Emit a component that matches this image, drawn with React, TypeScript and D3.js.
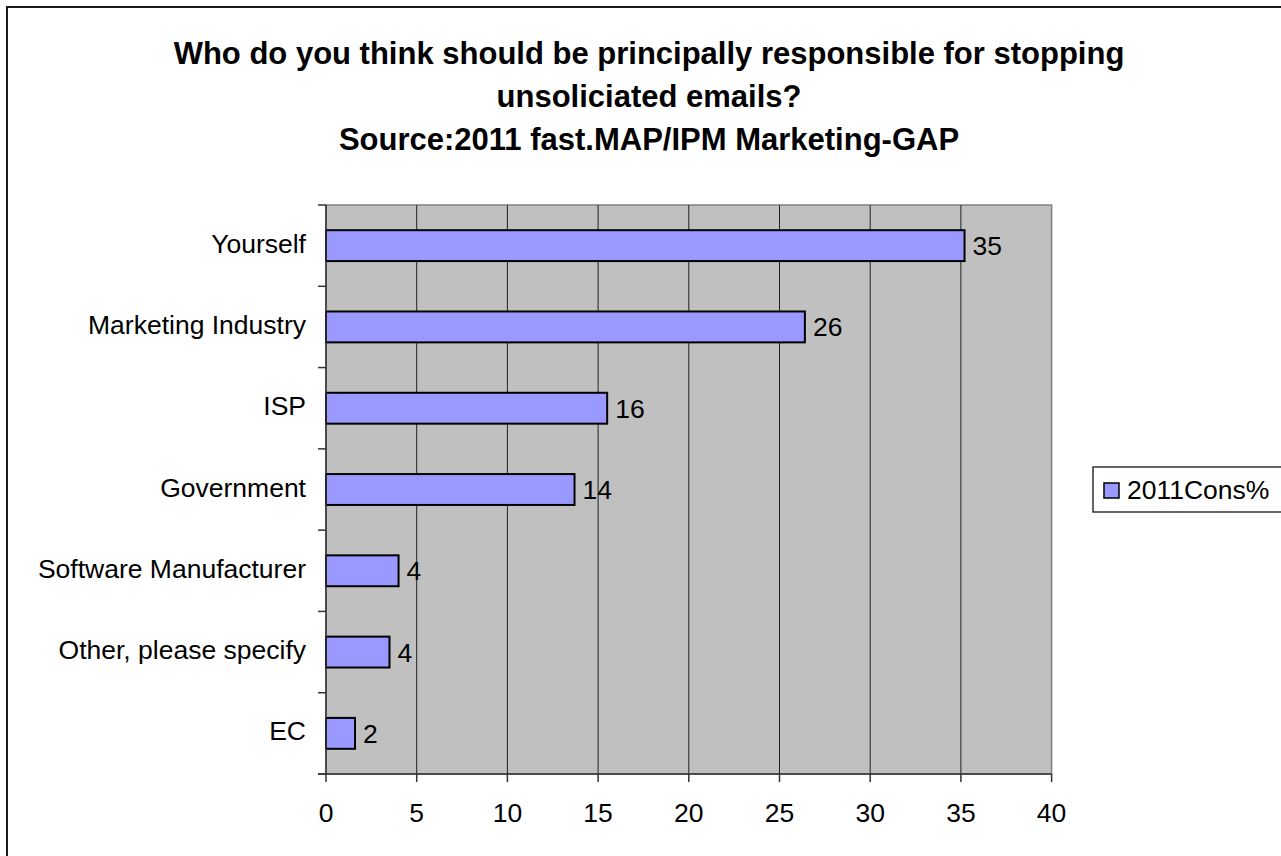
import React from "react";
import * as d3 from "d3";

const titleLines = [
  "Who do you think should be principally responsible for stopping",
  "unsoliciated emails?",
  "Source:2011 fast.MAP/IPM Marketing-GAP",
];
const categories = [
  "Yourself",
  "Marketing Industry",
  "ISP",
  "Government",
  "Software Manufacturer",
  "Other, please specify",
  "EC",
];
const values = [35.2, 26.4, 15.5, 13.7, 4.0, 3.5, 1.6];
const xTicks = [0, 5, 10, 15, 20, 25, 30, 35, 40];
const seriesName = "2011Cons%";

const FONT = "'Liberation Sans', Arial, sans-serif";

export default function App() {
  const W = 1281;
  const H = 856;
  const plot = { left: 326, right: 1051.6, top: 205, bottom: 774 };
  const x = d3.scaleLinear().domain([0, 40]).range([plot.left, plot.right]);
  const y = d3
    .scaleBand<string>()
    .domain(categories)
    .range([plot.top, plot.bottom])
    .paddingInner(0.62)
    .paddingOuter(0.31);
  const step = y.step();
  const boundaries = d3.range(categories.length + 1).map((i) => plot.top + i * step);
  const fmt = d3.format(".0f");
  const fs = 26.5;

  return (
    <div style={{ position: "absolute", left: 0, top: 0 }}>
      <svg width={W} height={H} style={{ display: "block", fontFamily: FONT }}>
        <rect x={0} y={0} width={W} height={H} fill="#fff" />
        {/* outer frame */}
        <rect x={7} y={7} width={1300} height={900} fill="#fff" stroke="#1a1a1a" strokeWidth={2} />
        {/* title */}
        {titleLines.map((t, i) => (
          <text
            key={i}
            x={649}
            y={63.5 + i * 43}
            textAnchor="middle"
            fontWeight="bold"
            fontSize={31}
            fill="#000"
          >
            {t}
          </text>
        ))}
        {/* plot area */}
        <rect
          x={plot.left}
          y={plot.top}
          width={plot.right - plot.left}
          height={plot.bottom - plot.top}
          fill="#c0c0c0"
          stroke="#808080"
          strokeWidth={1.5}
        />
        {/* gridlines */}
        {xTicks.slice(1, -1).map((t) => (
          <line
            key={t}
            x1={x(t)}
            x2={x(t)}
            y1={plot.top}
            y2={plot.bottom}
            stroke="#222"
            strokeWidth={1}
          />
        ))}
        {/* bars */}
        {categories.map((c, i) => (
          <g key={c}>
            <rect
              x={x(0)}
              y={y(c)!}
              width={x(values[i]) - x(0)}
              height={y.bandwidth()}
              fill="#9999ff"
              stroke="#000"
              strokeWidth={2}
            />
            <text
              x={x(values[i]) + 8}
              y={y(c)! + y.bandwidth() / 2 + 9.5}
              fontSize={fs}
              fill="#000"
            >
              {fmt(values[i])}
            </text>
            <text
              x={306}
              y={y(c)! + y.bandwidth() / 2 + 7}
              fontSize={fs}
              textAnchor="end"
              fill="#000"
            >
              {c}
            </text>
          </g>
        ))}
        {/* y axis */}
        <line x1={plot.left} x2={plot.left} y1={plot.top} y2={plot.bottom} stroke="#333" strokeWidth={1.5} />
        {boundaries.map((b, i) => (
          <line key={i} x1={plot.left - 8} x2={plot.left} y1={b} y2={b} stroke="#333" strokeWidth={1.5} />
        ))}
        {/* x axis */}
        <line x1={plot.left - 8} x2={plot.right} y1={plot.bottom} y2={plot.bottom} stroke="#333" strokeWidth={1.5} />
        {xTicks.map((t) => (
          <g key={t}>
            <line x1={x(t)} x2={x(t)} y1={plot.bottom} y2={plot.bottom + 8} stroke="#333" strokeWidth={1.5} />
            <text x={x(t)} y={822} textAnchor="middle" fontSize={fs} fill="#000">
              {t}
            </text>
          </g>
        ))}
        {/* legend */}
        <rect x={1093} y={467} width={220} height={45} fill="#fff" stroke="#000" strokeWidth={1.2} />
        <rect x={1104} y={483} width={15} height={15} fill="#9999ff" stroke="#000" strokeWidth={1.5} />
        <text x={1127} y={499} fontSize={fs} fill="#000">
          {seriesName}
        </text>
      </svg>
    </div>
  );
}
